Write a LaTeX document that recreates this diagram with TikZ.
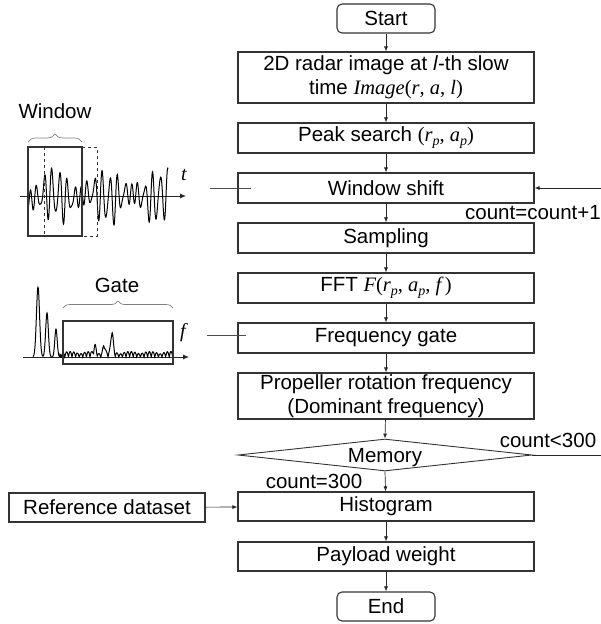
\documentclass[tikz,border=0pt]{standalone}
\usepackage{fontspec}
\setmainfont{Liberation Sans}
\newfontfamily\mserif{Liberation Serif}
\usetikzlibrary{shapes.geometric,arrows.meta,decorations.pathreplacing}
% serif italic variable, upright punctuation, lowered subscript
\newcommand{\varit}[1]{{\mserif\itshape #1}}
\newcommand{\varup}[1]{{\mserif #1}}
\newcommand{\varsub}[1]{\raisebox{-4pt}{\fontsize{14}{14}\selectfont\mserif\itshape #1}}
\begin{document}
\begin{tikzpicture}[x=1pt,y=-1pt,
  every node/.style={font=\fontsize{20.5}{24}\selectfont, text=black},
  proc/.style={draw=black!80, line width=1.1pt, minimum width=296pt, align=center, inner sep=0pt},
  term/.style={draw=black!80, line width=1.1pt, rounded corners=5pt, minimum width=98pt, minimum height=29pt, inner sep=0pt},
  cond/.style={draw=black!80, line width=0.9pt, diamond, aspect=9.2, minimum width=294pt, minimum height=32pt, inner sep=0pt},
  flow/.style={draw=black!85, line width=0.7pt, -{Latex[length=5pt,width=4pt]}},
  thin/.style={draw=black!70, line width=0.7pt},
  sig/.style={line width=1.1pt, black},
  lbl/.style={inner sep=0pt, anchor=base}]
\useasboundingbox (0,0) rectangle (601,624);
\clip (0,0) rectangle (601,624);

% main flow
\node[term] (start) at (386,18.5) {Start};
\node[proc, minimum height=51pt] (radar) at (386,77.5)
  {2D radar image at \textit{l}-th slow\\ time \varit{Image}\varup{(}\varit{r}\varup{, }\varit{a}\varup{, }\varit{l}\varup{)}};
\node[proc, minimum height=30pt] (peak) at (386,138)
  {Peak search \varup{(}\varit{r}\varsub{p}\varup{, }\varit{a}\varsub{p}\varup{)}};
\node[proc, minimum height=30pt] (shift) at (386,188) {Window shift};
\node[proc, minimum height=30pt] (samp) at (386,238) {Sampling};
\node[proc, minimum height=30pt] (fft) at (386,288)
  {FFT \varit{F}\varup{(}\varit{r}\varsub{p}\varup{, }\varit{a}\varsub{p}\varup{, }\varit{f}\,\varup{)}};
\node[proc, minimum height=30pt] (gate) at (386,338) {Frequency gate};
\node[proc, minimum height=46pt] (prop) at (386,396)
  {Propeller rotation frequency\\(Dominant frequency)};
\node[cond] (mem) at (385,455) {};
\node at (385,458) {Memory};
\node[proc, minimum height=29pt] (hist) at (386,506.5) {Histogram};
\node[proc, minimum height=29pt] (pay) at (386,556.5) {Payload weight};
\node[term] (end) at (386,606.5) {End};

\node[draw=black!80, line width=1.1pt, minimum width=196pt, minimum height=29pt, inner sep=0pt]
  (ref) at (107,507.5) {Reference dataset};

\draw[flow] (start) -- (radar);
\draw[flow] (radar) -- (peak);
\draw[flow] (peak) -- (shift);
\draw[flow] (shift) -- (samp);
\draw[flow] (samp) -- (fft);
\draw[flow] (fft) -- (gate);
\draw[flow] (gate) -- (prop);
\draw[flow] (prop) -- (mem.north);
\draw[flow] (mem.south) -- (hist);
\draw[flow] (hist) -- (pay);
\draw[flow] (pay) -- (end);
\draw[flow] (ref) -- (hist);

% feedback loop
\coordinate (loopA) at (605,455);
\coordinate (loopB) at (605,188);
\draw[flow] (mem.east) -- (loopA) -- (loopB) -- (shift.east);

\node[lbl] at (533,219) {count=count+1};
\node[lbl] at (548,447) {count<300};
\node[lbl] at (314,488) {count=300};

% window illustration
\coordinate (winTip) at (210,188);
\coordinate (winEnd) at (251,188);
\draw[thin] (winTip) -- (winEnd);
\draw[line width=0.8pt, black!85, -{Latex[length=6pt,width=5pt]}] (20,196) -- (186,196);
\node[font=\fontsize{20}{22}\selectfont\mserif\itshape] at (184,175) {t};
\draw[sig, line width=1pt] plot[domain=28:168, samples=600, smooth]
  (\x, {196 - 13*sin(\x*50) - 10*sin(\x*43+30) - 6*sin(\x*71+80) - 3*sin(\x*9)});
\draw[line width=1.1pt, black!80] (28,147) rectangle (82,236);
\draw[line width=1pt, black!80, dashed] (44,147) -- (44,236);
\draw[line width=1pt, black!80, dashed] (82,147) -- (97,147) -- (97,236) -- (82,236);
\draw[thin, gray, decorate, decoration={brace, amplitude=8pt}] (28,142) -- (82,142);
\node (winlbl) at (55,111) {Window};

% gate illustration
\coordinate (gateTip) at (207,335);
\coordinate (gateEnd) at (246,335);
\draw[thin] (gateTip) -- (gateEnd);
\draw[line width=0.8pt, black!85, -{Latex[length=6pt,width=5pt]}] (23,357) -- (189,357);
\node[font=\fontsize{20}{22}\selectfont\mserif\itshape] at (183,333) {f};
\draw[sig, line width=1pt] plot[domain=33:173, samples=600, smooth]
  (\x, {357 - 70*exp(-((\x-38)/2.2)^2) - 44*exp(-((\x-47)/1.9)^2) - 28*exp(-((\x-56)/1.7)^2)
        - 22*exp(-((\x-112)/1.6)^2) - 9*exp(-((\x-104)/1.5)^2) - 8*exp(-((\x-95)/1.5)^2)
        - (\x>60)*(3+2.5*abs(sin(\x*9)))*abs(sin(\x*50))});
\draw[line width=1.1pt, black!80] (63,321) rectangle (173,364);
\draw[thin, gray, decorate, decoration={brace, amplitude=7pt}] (63,308) -- (173,308);
\node (gatelbl) at (117,285) {Gate};
\end{tikzpicture}
\end{document}
